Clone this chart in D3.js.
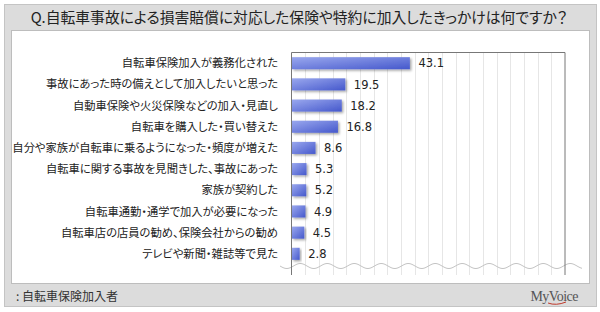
<!DOCTYPE html>
<html>
<head>
<meta charset="utf-8">
<script src="https://cdn.jsdelivr.net/npm/d3@7"></script>
<style>
  body { margin: 0; background: #fff; }
  svg { display: block; }
  .jp { font-family: 'Noto Sans CJK JP', sans-serif; font-feature-settings: "palt"; }
</style>
</head>
<body>
<div id="chart"></div>
<script>
// categories and values (%)
var categories = [
    "自転車保険加入が義務化された",
    "事故にあった時の備えとして加入したいと思った",
    "自動車保険や火災保険などの加入・見直し",
    "自転車を購入した・買い替えた",
    "自分や家族が自転車に乗るようになった・頻度が増えた",
    "自転車に関する事故を見聞きした、事故にあった",
    "家族が契約した",
    "自転車通勤・通学で加入が必要になった",
    "自転車店の店員の勧め、保険会社からの勧め",
    "テレビや新聞・雑誌等で見た"
];
var values = [43.1, 19.5, 18.2, 16.8, 8.6, 5.3, 5.2, 4.9, 4.5, 2.8];
var gridTicks = [5, 10, 15, 20, 25, 30, 35, 40, 45, 50, 55, 60, 65, 70, 75, 80, 85, 90, 95];

var titleText = "Q.自転車事故による損害賠償に対応した保険や特約に加入したきっかけは何ですか？";
var noteText = ": 自転車保険加入者";

drawChart();

function drawChart() {
    var W = 600, H = 312;
    var svg = d3.select("#chart").append("svg")
        .attr("width", W)
        .attr("height", H);

    var defs = svg.append("defs");
    var grad = defs.append("linearGradient")
        .attr("id", "barGrad")
        .attr("x1", "0").attr("y1", "0").attr("x2", "1").attr("y2", "1");
    grad.append("stop").attr("offset", "0%").attr("stop-color", "#9aa8ee");
    grad.append("stop").attr("offset", "100%").attr("stop-color", "#4558cc");

    var shadow = defs.append("filter").attr("id", "shadow")
        .attr("x", "-10%").attr("y", "-20%").attr("width", "130%").attr("height", "160%");
    shadow.append("feDropShadow")
        .attr("dx", 1.5).attr("dy", 1.5).attr("stdDeviation", 1)
        .attr("flood-color", "#000").attr("flood-opacity", 0.35);

    // outer grey panel + inner white box
    svg.append("rect")
        .attr("x", 4.5).attr("y", 4.5).attr("width", 592).attr("height", 302)
        .attr("fill", "#dcdcdc").attr("stroke", "#c4c4c4");
    svg.append("rect")
        .attr("x", 11.5).attr("y", 30.5).attr("width", 578).attr("height", 253)
        .attr("fill", "#fff").attr("stroke", "#bdbdbd");

    // title
    svg.append("text")
        .attr("class", "jp")
        .attr("x", 299).attr("y", 23)
        .attr("text-anchor", "middle")
        .style("font-size", "14.8px")
        .attr("fill", "#222")
        .text(titleText);

    // scales
    var left = 291.5, right = 565, plotTop = 52.5, plotBottom = 275;
    var xScale = d3.scaleLinear().domain([0, 100]).range([left, right]);
    var yScale = d3.scaleBand()
        .domain(categories)
        .range([plotTop, 264.5])
        .paddingInner(0.43)
        .paddingOuter(0.22);

    // gridlines
    svg.append("g").selectAll("line")
        .data(gridTicks)
        .enter()
        .append("line")
        .attr("x1", function(d) { return Math.round(xScale(d)) + 0.5; })
        .attr("x2", function(d) { return Math.round(xScale(d)) + 0.5; })
        .attr("y1", plotTop).attr("y2", plotBottom)
        .attr("stroke", "#e6e6e6");

    // wavy break line
    var wave = [];
    for (var x = 280; x <= 582; x += 1) {
        wave.push([x, 266 + 2.5 * Math.sin((x - 280) / 27 * 2 * Math.PI)]);
    }
    svg.append("path")
        .attr("d", d3.line()(wave))
        .attr("fill", "none")
        .attr("stroke", "#c4c4c4");

    // frame lines
    svg.append("line").attr("x1", left).attr("x2", left).attr("y1", plotTop).attr("y2", plotBottom)
        .attr("stroke", "#777");
    svg.append("line").attr("x1", right).attr("x2", right).attr("y1", plotTop).attr("y2", plotBottom)
        .attr("stroke", "#777");
    svg.append("line").attr("x1", left).attr("x2", right).attr("y1", plotTop).attr("y2", plotTop)
        .attr("stroke", "#777");

    // bars
    svg.append("g").selectAll("rect")
        .data(values)
        .enter()
        .append("rect")
        .attr("x", left + 0.5)
        .attr("y", function(d, i) { return yScale(categories[i]); })
        .attr("width", function(d) { return xScale(d) - left; })
        .attr("height", yScale.bandwidth())
        .attr("fill", "url(#barGrad)")
        .attr("filter", "url(#shadow)");

    // value labels
    svg.append("g").selectAll("text")
        .data(values)
        .enter()
        .append("text")
        .attr("x", function(d) { return xScale(d) + 9; })
        .attr("y", function(d, i) { return yScale(categories[i]) + yScale.bandwidth() / 2; })
        .attr("dy", "0.36em")
        .style("font-family", "'DejaVu Sans', sans-serif")
        .style("font-size", "11.5px")
        .attr("fill", "#222")
        .text(function(d) { return d.toFixed(1); });

    // category labels
    svg.append("g").selectAll("text")
        .data(categories)
        .enter()
        .append("text")
        .attr("class", "jp")
        .attr("x", 278)
        .attr("y", function(d) { return yScale(d) + yScale.bandwidth() / 2; })
        .attr("dy", "0.36em")
        .attr("text-anchor", "end")
        .style("font-size", "11.3px")
        .attr("fill", "#222")
        .text(function(d) { return d; });

    // footnote
    svg.append("text")
        .attr("class", "jp")
        .attr("x", 16).attr("y", 301)
        .style("font-size", "12px")
        .attr("fill", "#333")
        .text(noteText);

    // MyVoice mark
    svg.append("text")
        .attr("x", 578).attr("y", 301)
        .attr("text-anchor", "end")
        .style("font-family", "'Liberation Serif', serif")
        .style("font-size", "14px")
        .style("letter-spacing", "-0.5px")
        .attr("fill", "#555")
        .text("MyVoice");
    svg.append("path")
        .attr("d", "M548,303 Q556,306 566,302")
        .attr("fill", "none")
        .attr("stroke", "#c0392b")
        .attr("stroke-width", 1);
}
</script>
</body>
</html>
